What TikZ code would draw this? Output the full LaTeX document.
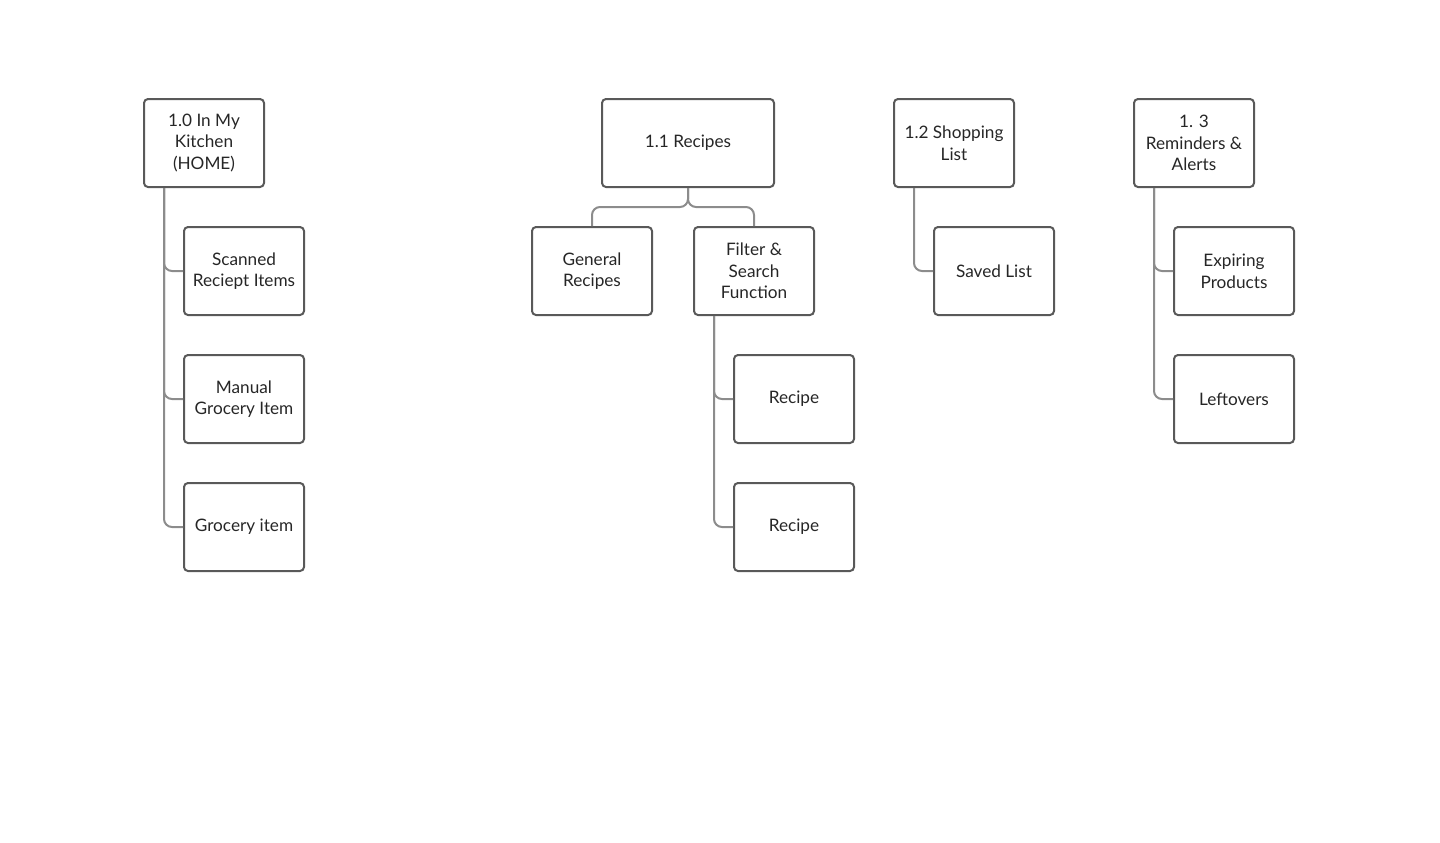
\documentclass[tikz,border=0pt]{standalone}
\usepackage{fontspec}
\setmainfont{Lato}
\begin{document}
\begin{tikzpicture}[x=0.5pt,y=-0.5pt,
    every node/.style={draw=black!65, line width=1pt, rounded corners=2pt, minimum width=60pt, minimum height=44pt, align=center, font=\fontsize{8.6}{10.8}\selectfont, text=black!85, inner sep=1pt},
    link/.style={draw=black!45, line width=1pt, rounded corners=4pt}]
    \useasboundingbox (0,0) rectangle (1440,842);
    % home
    \node (home) at (204,143) {1.0 In My\\Kitchen\\(HOME)};
    \node (scan) at (244,271) {Scanned\\Reciept Items};
    \node (manual) at (244,399) {Manual\\Grocery Item};
    \node (item) at (244,527) {Grocery item};
    \foreach \c in {scan,manual,item}
        \draw[link] (home.south -| 164,0) |- (\c.west);
    % recipes
    \node[minimum width=86pt] (recipes) at (688,143) {1.1 Recipes};
    \node (general) at (592,271) {General\\Recipes};
    \node (filter) at (754,271) {Filter \&\\Search\\Function};
    \draw[link] (recipes.south) -- (688,207) -| (general.north);
    \draw[link] (recipes.south) -- (688,207) -| (filter.north);
    \node (recipeA) at (794,399) {Recipe};
    \node (recipeB) at (794,527) {Recipe};
    \foreach \c in {recipeA,recipeB}
        \draw[link] (filter.south -| 714,0) |- (\c.west);
    % shopping
    \node (shop) at (954,143) {1.2 Shopping\\List};
    \node (saved) at (994,271) {Saved List};
    \draw[link] (shop.south -| 914,0) |- (saved.west);
    % reminders
    \node (remind) at (1194,143) {1. 3\\Reminders \&\\Alerts};
    \node (expire) at (1234,271) {Expiring\\Products};
    \node (left) at (1234,399) {Leftovers};
    \foreach \c in {expire,left}
        \draw[link] (remind.south -| 1154,0) |- (\c.west);
\end{tikzpicture}
\end{document}
